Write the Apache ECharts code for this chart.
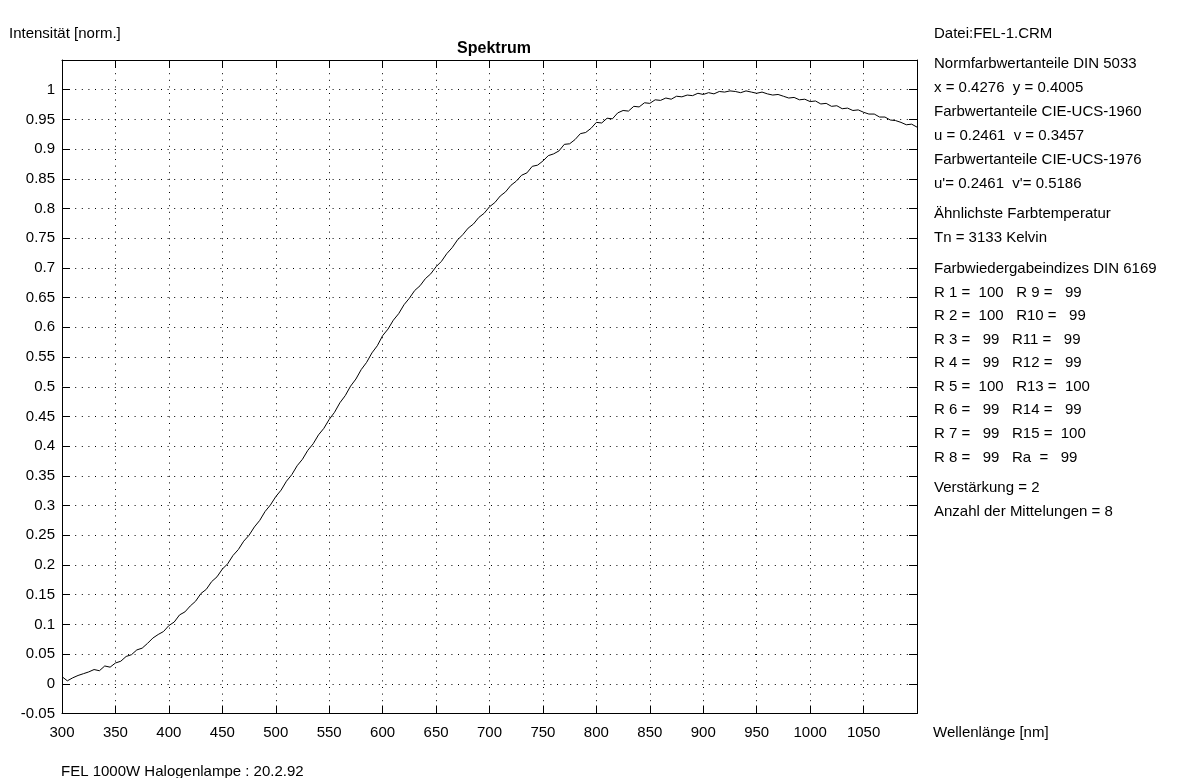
<!DOCTYPE html>
<html><head><meta charset="utf-8">
<script src="https://cdn.jsdelivr.net/npm/echarts@6/dist/echarts.min.js"></script>
<style>html,body{margin:0;padding:0;background:#fff}#c{width:1177px;height:778px}</style>
</head><body><div id="c"></div>
<script>
const wavelengths = [
300,305,310,315,320,325,330,335,340,345,350,355,360,365,370,375,380,385,390,395,
400,405,410,415,420,425,430,435,440,445,450,455,460,465,470,475,480,485,490,495,
500,505,510,515,520,525,530,535,540,545,550,555,560,565,570,575,580,585,590,595,
600,605,610,615,620,625,630,635,640,645,650,655,660,665,670,675,680,685,690,695,
700,705,710,715,720,725,730,735,740,745,750,755,760,765,770,775,780,785,790,795,
800,805,810,815,820,825,830,835,840,845,850,855,860,865,870,875,880,885,890,895,
900,905,910,915,920,925,930,935,940,945,950,955,960,965,970,975,980,985,990,995,
1000,1005,1010,1015,1020,1025,1030,1035,1040,1045,1050,1055,1060,1065,1070,1075,1080,1085,1090,1095,
1100];
const intensity = [
0.012,0.005,0.010,0.014,0.017,0.020,0.024,0.022,0.030,0.028,0.035,0.038,0.046,0.049,0.057,0.060,0.068,0.077,0.083,0.088,
0.098,0.104,0.116,0.121,0.131,0.139,0.152,0.159,0.172,0.180,0.193,0.202,0.216,0.226,0.240,0.250,0.264,0.275,0.290,0.301,
0.315,0.326,0.341,0.352,0.367,0.378,0.393,0.404,0.419,0.430,0.445,0.457,0.473,0.485,0.501,0.513,0.529,0.541,0.557,0.569,
0.586,0.597,0.612,0.623,0.638,0.649,0.662,0.670,0.682,0.690,0.702,0.711,0.724,0.734,0.747,0.756,0.767,0.774,0.785,0.792,
0.803,0.810,0.821,0.828,0.839,0.846,0.856,0.860,0.871,0.873,0.880,0.889,0.892,0.897,0.908,0.909,0.916,0.926,0.928,0.935,
0.945,0.944,0.952,0.951,0.961,0.965,0.964,0.972,0.971,0.978,0.977,0.983,0.982,0.986,0.984,0.989,0.988,0.991,0.990,0.994,
0.992,0.995,0.993,0.997,0.996,0.998,0.997,0.995,0.998,0.996,0.994,0.996,0.993,0.991,0.992,0.989,0.986,0.987,0.983,0.984,
0.980,0.981,0.976,0.977,0.972,0.973,0.968,0.969,0.965,0.966,0.962,0.959,0.959,0.954,0.954,0.949,0.948,0.945,0.941,0.942,
0.937];
const titleText = 'Spektrum';
const yAxisTitle = 'Intensität [norm.]';
const xAxisTitle = 'Wellenlänge [nm]';
const footerText = 'FEL 1000W Halogenlampe : 20.2.92';
const infoLines = [
  'Datei:FEL-1.CRM',
  'Normfarbwertanteile DIN 5033', 'x = 0.4276  y = 0.4005', 'Farbwertanteile CIE-UCS-1960', 'u = 0.2461  v = 0.3457', 'Farbwertanteile CIE-UCS-1976', "u'= 0.2461  v'= 0.5186",
  'Ähnlichste Farbtemperatur', 'Tn = 3133 Kelvin',
  'Farbwiedergabeindizes DIN 6169', 'R 1 =  100   R 9 =   99', 'R 2 =  100   R10 =   99', 'R 3 =   99   R11 =   99', 'R 4 =   99   R12 =   99', 'R 5 =  100   R13 =  100', 'R 6 =   99   R14 =   99', 'R 7 =   99   R15 =  100', 'R 8 =   99   Ra  =   99',
  'Verstärkung = 2', 'Anzahl der Mittelungen = 8'
];
const infoLineY = [32, 62, 86, 110, 134, 158, 182, 212, 236, 267, 291, 314, 338, 361, 385, 408, 432, 456, 486, 510];

const FONT = '"Liberation Sans", Arial, sans-serif';
const chart = echarts.init(document.getElementById('c'), null, {renderer: 'canvas'});

const graphics = [];
function addText(t, x, y) {
  graphics.push({type: 'text', x: x, y: y + 2,
    style: {text: t, font: '15px ' + FONT, fill: '#000', textAlign: 'left', verticalAlign: 'middle', textVerticalAlign: 'middle'}});
}
addText(yAxisTitle, 9, 32);
addText(xAxisTitle, 933, 731);
addText(footerText, 61, 770);
infoLines.forEach((line, i) => addText(line, 934, infoLineY[i]));

const dotted = {color: '#000', width: 1, type: [1, 5.6]};
const option = {
  animation: false,
  title: {text: titleText, left: 489, top: 36, textAlign: 'center',
    textStyle: {fontFamily: FONT, fontWeight: 'bold', fontSize: 16, color: '#000'}},
  grid: {left: 62, right: 260, top: 60, bottom: 64.5, containLabel: false},
  xAxis: [{
    type: 'value', min: 300, max: 1100, interval: 50, position: 'bottom',
    axisLine: {onZero: false, lineStyle: {color: '#000', width: 1}},
    axisTick: {inside: true, length: 8, lineStyle: {color: '#000'}},
    axisLabel: {color: '#000', fontFamily: FONT, fontSize: 15, margin: 12,
      formatter: v => v >= 1100 ? '' : String(v)},
    splitLine: {show: true, lineStyle: dotted}
  }, {
    type: 'value', min: 300, max: 1100, interval: 50, position: 'top',
    axisLine: {onZero: false, lineStyle: {color: '#000', width: 1}},
    axisTick: {inside: true, length: 8, lineStyle: {color: '#000'}},
    axisLabel: {show: false}, splitLine: {show: false}
  }],
  yAxis: [{
    type: 'value', min: -0.05, max: 1.05, interval: 0.05, position: 'left',
    axisLine: {show: true, onZero: false, lineStyle: {color: '#000', width: 1}},
    axisTick: {show: true, inside: true, length: 8, lineStyle: {color: '#000'}},
    axisLabel: {color: '#000', fontFamily: FONT, fontSize: 15, margin: 7,
      formatter: v => v > 1.02 ? '' : String(+v.toFixed(2))},
    splitLine: {show: true, lineStyle: dotted}
  }, {
    type: 'value', min: -0.05, max: 1.05, interval: 0.05, position: 'right',
    axisLine: {show: true, onZero: false, lineStyle: {color: '#000', width: 1}},
    axisTick: {show: true, inside: true, length: 8, lineStyle: {color: '#000'}},
    axisLabel: {show: false}, splitLine: {show: false}
  }],
  series: [{
    type: 'line', xAxisIndex: 0, yAxisIndex: 0,
    data: wavelengths.map((w, i) => [w, intensity[i]]),
    showSymbol: false, symbol: 'none', smooth: false,
    lineStyle: {color: '#000', width: 1}
  }],
  graphic: graphics
};
chart.setOption(option);
</script></body></html>
